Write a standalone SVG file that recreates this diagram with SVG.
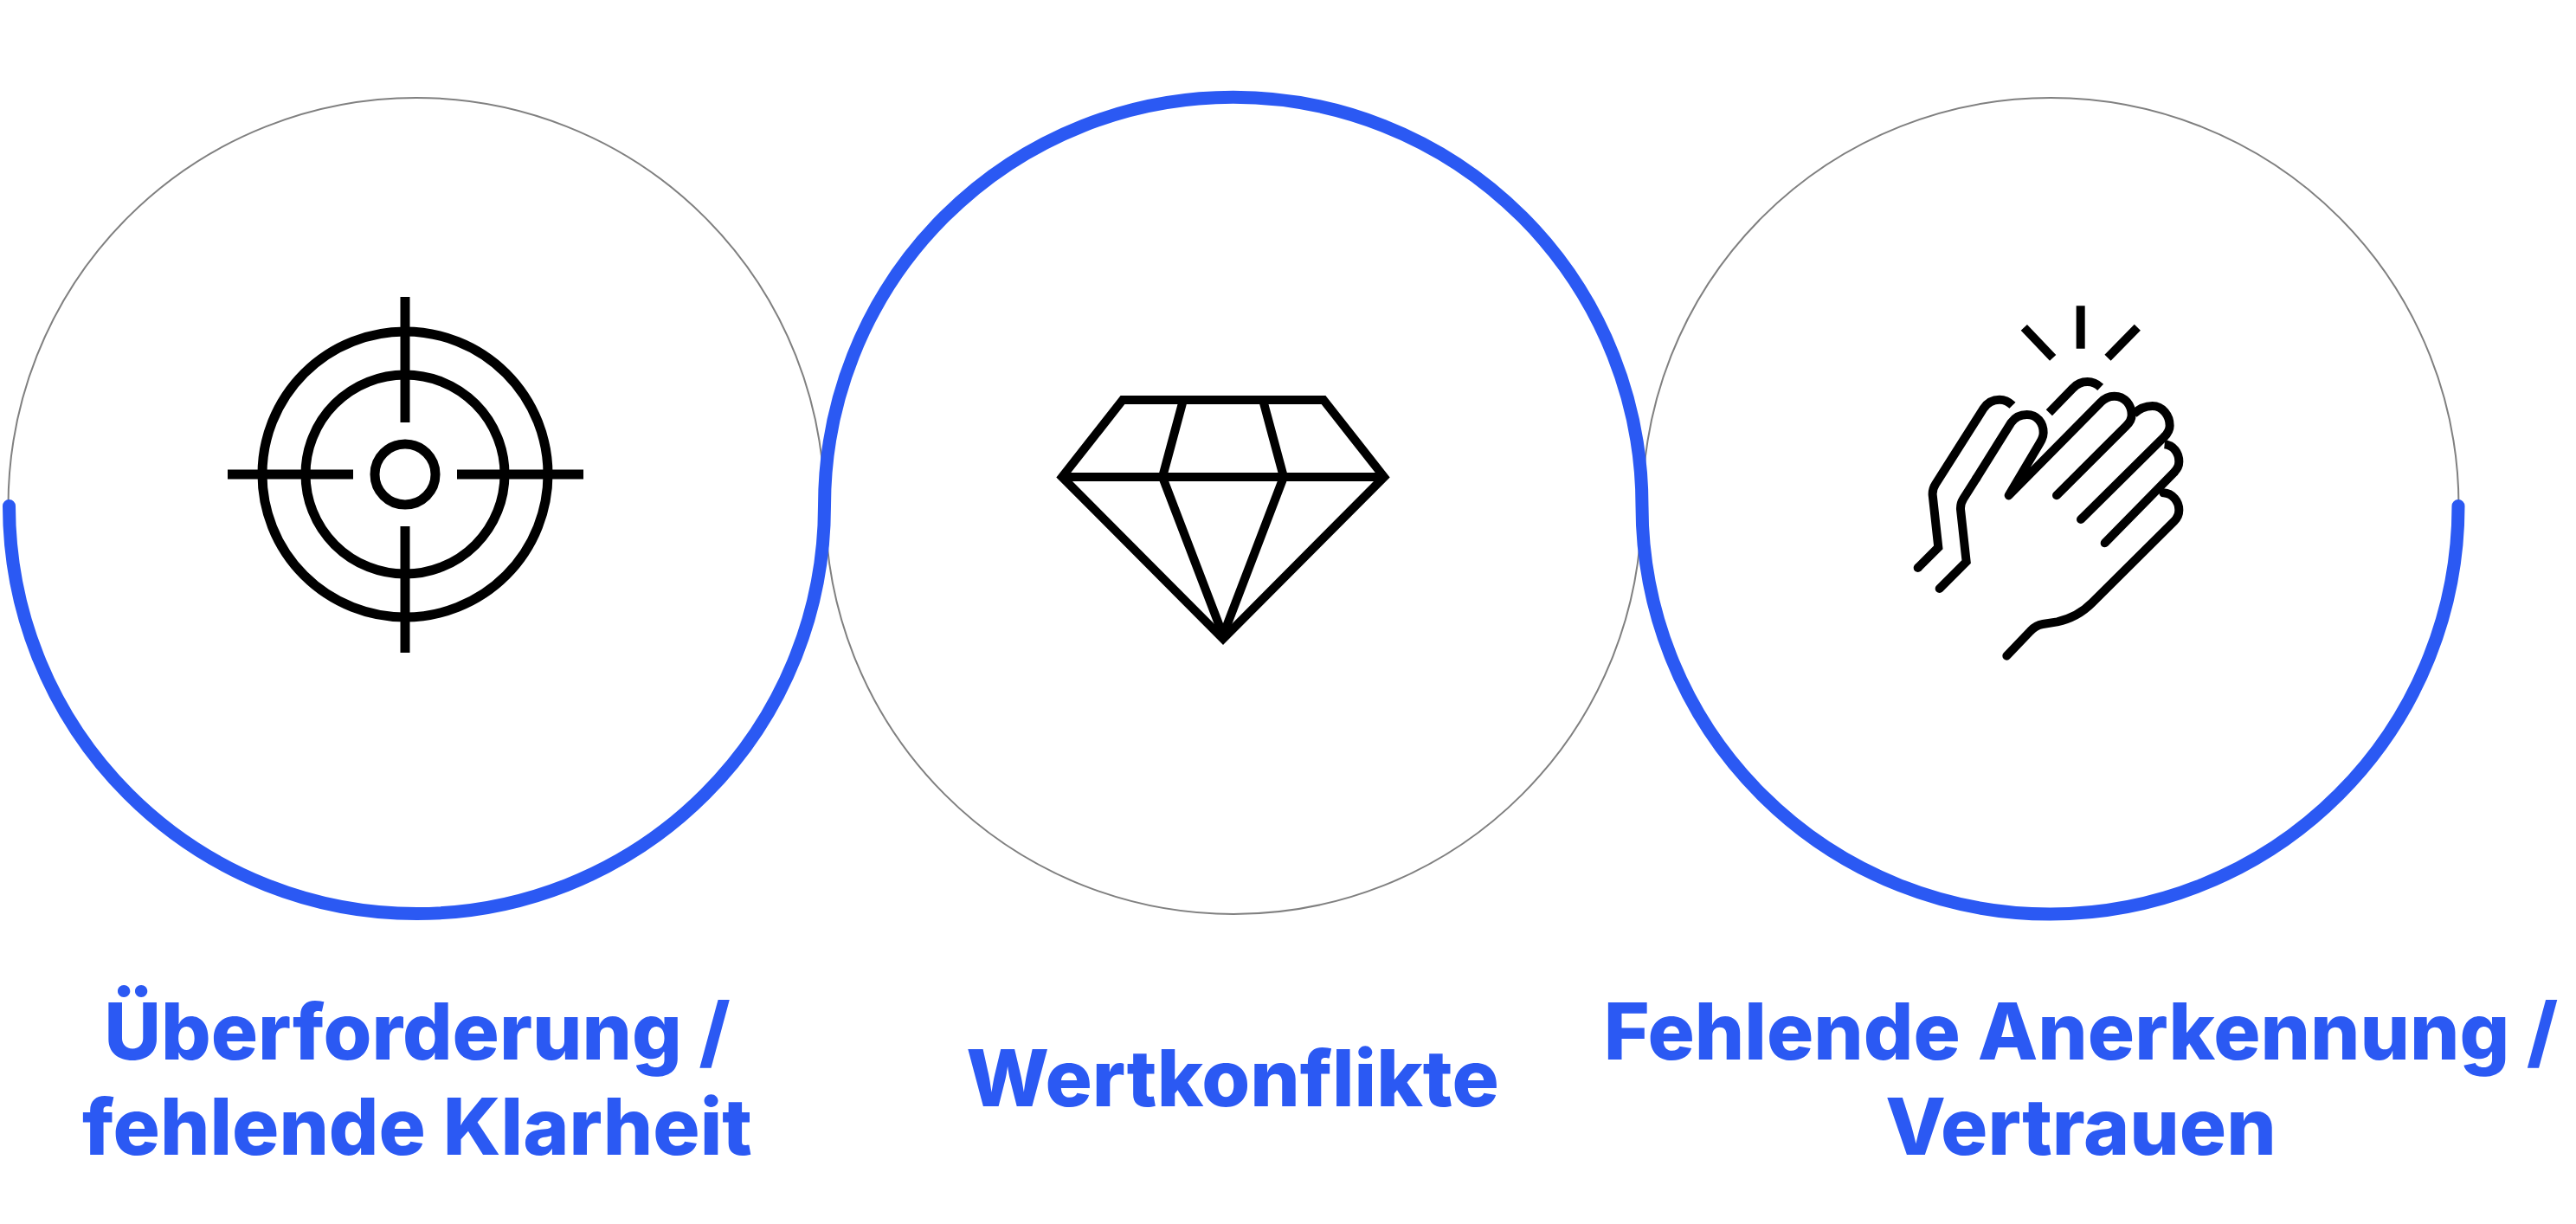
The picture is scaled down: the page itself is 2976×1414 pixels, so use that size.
<svg xmlns="http://www.w3.org/2000/svg" width="2976" height="1414" viewBox="0 0 2976 1414">
<style>
.ring{fill:none;stroke:#808080;stroke-width:2}
.flow{fill:none;stroke:#2b59f3;stroke-width:15;stroke-linecap:round}
.ic{fill:none;stroke:#000;stroke-width:11}
.label{font-family:"Inter","Liberation Sans",sans-serif;font-weight:800;font-size:90.500px;fill:#2b59f3;text-anchor:middle}
</style>
<rect width="2976" height="1414" fill="#fff"/>
<g id="node-ueberforderung">
<circle class="ring" cx="481" cy="584.500" r="471.500"/>
<g class="ic">
<circle cx="468" cy="548" r="165"/><circle cx="468" cy="548" r="115"/><circle cx="468" cy="548" r="35"/>
<path d="M263 548H408M528 548H674M468 343V488M468 608V754"/>
</g>
<text class="label" x="482" y="1224">Überforderung /</text>
<text class="label" x="482" y="1334">fehlende Klarheit</text>
</g>
<g id="node-wertkonflikte">
<circle class="ring" cx="1425" cy="584.500" r="471.500"/>
<g class="ic" style="stroke-width:10">
<path d="M1297 462H1529L1599 551L1413 738L1227 551Z"/>
<path stroke-linejoin="bevel" d="M1227 551H1599M1367 462L1343 551L1413 734L1483 551L1459 462"/>
</g>
<text class="label" x="1424" y="1278">Wertkonflikte</text>
</g>
<g id="node-anerkennung">
<circle class="ring" cx="2369" cy="584.500" r="471.500"/>
<g transform="translate(2150 320) scale(.33333)" fill="none" stroke="#000" stroke-width="30" stroke-linecap="round" stroke-linejoin="round">
<path stroke-linecap="butt" d="M565 175L665 280M761 100V248M958 175L855 280"/>
<path stroke-linecap="butt" d="M652 470L735 385Q755 363 785 363Q810 363 830 382"/>
<path stroke-linecap="butt" stroke-linejoin="miter" d="M525 445Q505 425 480 425Q445 425 425 455L258 718Q247 735 248 755L268 937L197 1008"/>
<path d="M197 1008h0"/>
<path stroke-linejoin="miter" d="M272 1080L365 987L345 805Q344 785 355 768L400 697"/>
<path d="M400 697L520 505Q540 477 575 477C610 477 632 505 632 540Q632 555 620 575L512 757L830 435Q850 413 878 413C915 413 938 445 938 478Q938 498 920 515L678 757"/>
<path stroke-linecap="butt" d="M945 475C965 455 985 447 1010 447C1045 447 1070 480 1070 515Q1070 535 1050 555"/>
<path d="M1050 555L762 840"/>
<path stroke-linecap="butt" d="M1052 580C1083 583 1102 610 1102 640Q1102 660 1085 677"/>
<path d="M1085 677L845 922"/>
<path d="M1048 748C1080 750 1102 778 1102 808Q1102 830 1085 847L800 1130Q750 1180 680 1195L630 1203Q605 1207 586 1228L505 1313"/>
</g>
<text class="label" x="2404" y="1224">Fehlende Anerkennung /</text>
<text class="label" x="2404" y="1334">Vertrauen</text>
</g>
<g id="connectors">
<path class="flow" d="M10.500 584.500A471 471 0 0 0 952.500 584.500A472 472 0 0 1 1897 584.500A471.500 471.500 0 0 0 2840 584.500"/>
</g>
</svg>
